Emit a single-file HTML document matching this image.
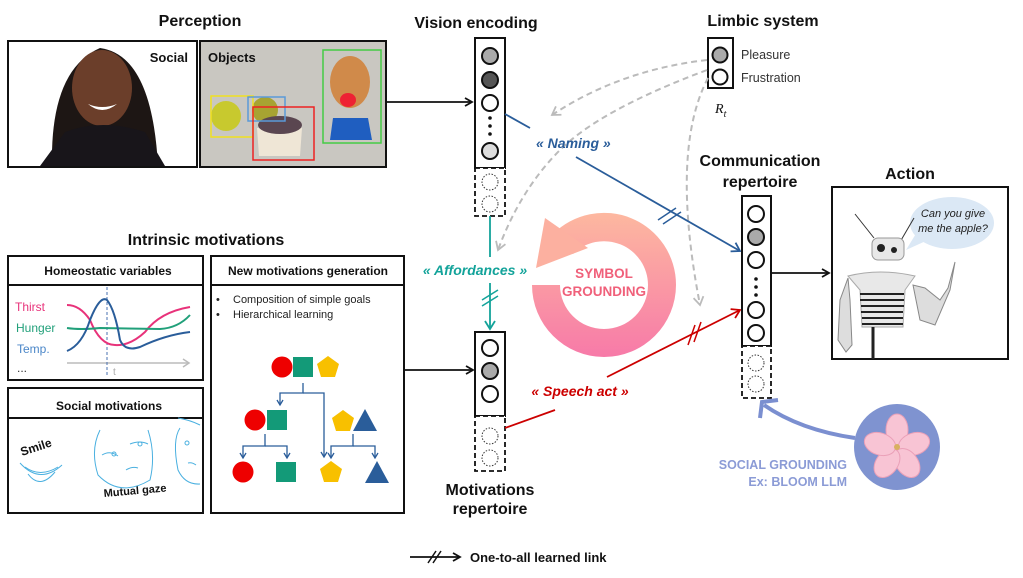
<!DOCTYPE html>
<html><head><meta charset="utf-8"><style>
html,body{margin:0;padding:0;background:#fff;}
svg{display:block;font-family:"Liberation Sans",sans-serif;}
.t{font-weight:bold;font-size:16px;fill:#111;text-anchor:middle;}
.h{font-weight:bold;font-size:12px;fill:#111;text-anchor:middle;}
</style></head><body>
<svg width="1023" height="578" viewBox="0 0 1023 578" xmlns="http://www.w3.org/2000/svg">
<defs>
<marker id="ak" markerWidth="10" markerHeight="10" refX="8" refY="5" orient="auto" markerUnits="userSpaceOnUse"><path d="M1,1 L8,5 L1,9" fill="none" stroke="#111" stroke-width="1.8"/></marker>
<marker id="ab" markerWidth="12" markerHeight="12" refX="9" refY="6" orient="auto" markerUnits="userSpaceOnUse"><path d="M1,1 L9,6 L1,11" fill="none" stroke="#2a5d9a" stroke-width="1.8"/></marker>
<marker id="ar" markerWidth="12" markerHeight="12" refX="9" refY="6" orient="auto" markerUnits="userSpaceOnUse"><path d="M1,1 L9,6 L1,11" fill="none" stroke="#c00" stroke-width="1.8"/></marker>
<marker id="at" markerWidth="12" markerHeight="12" refX="9" refY="6" orient="auto" markerUnits="userSpaceOnUse"><path d="M1,1 L9,6 L1,11" fill="none" stroke="#13a39a" stroke-width="1.8"/></marker>
<marker id="ag" markerWidth="12" markerHeight="12" refX="9" refY="6" orient="auto" markerUnits="userSpaceOnUse"><path d="M1,1 L9,6 L1,11" fill="none" stroke="#bbb" stroke-width="1.8"/></marker>
<marker id="as" markerWidth="8" markerHeight="8" refX="6" refY="4" orient="auto" markerUnits="userSpaceOnUse"><path d="M1,1 L6,4 L1,7" fill="none" stroke="#2a5d9a" stroke-width="1.3"/></marker>
<linearGradient id="sg" gradientUnits="userSpaceOnUse" x1="0" y1="213" x2="0" y2="357"><stop offset="0" stop-color="#fdb8a0"/><stop offset="1" stop-color="#f77aa8"/></linearGradient>
</defs>

<!-- Perception -->
<text class="t" x="200" y="26">Perception</text>
<rect x="8" y="41" width="189" height="126" fill="#fff" stroke="#111" stroke-width="2"/>
<path d="M52,166 Q50,70 100,48 Q152,55 158,166 Z" fill="#1d1614"/>
<ellipse cx="102" cy="88" rx="30" ry="38" fill="#6b3e2a"/>
<path d="M65,132 Q102,118 145,132 L165,166 L40,166 Z" fill="#18151a"/>
<path d="M88,104 Q102,116 117,104 Q102,110 88,104Z" fill="#fff"/>
<text x="188" y="62" font-size="13" font-weight="bold" text-anchor="end" fill="#111">Social</text>
<rect x="200" y="41" width="186" height="126" fill="#c9c7c1" stroke="#111" stroke-width="2"/>
<circle cx="226" cy="116" r="15" fill="#c8c92e"/>
<circle cx="265" cy="110" r="13" fill="#a7a332"/>
<path d="M257,128 L302,128 L300,156 L259,156 Z" fill="#efe6d6"/>
<ellipse cx="280" cy="125" rx="22" ry="9" fill="#5a4650"/>
<ellipse cx="350" cy="82" rx="20" ry="26" fill="#d08a4a"/>
<ellipse cx="348" cy="100" rx="8" ry="7" fill="#e23"/>
<path d="M333,118 L368,118 L372,140 L330,140Z" fill="#1f5ec0"/>
<rect x="211" y="96" width="42" height="41" fill="none" stroke="#f0e020" stroke-width="1.5"/>
<rect x="248" y="97" width="37" height="24" fill="none" stroke="#5a9ad8" stroke-width="1.5"/>
<rect x="253" y="107" width="61" height="53" fill="none" stroke="#e22" stroke-width="1.5"/>
<rect x="323" y="50" width="58" height="93" fill="none" stroke="#4c4" stroke-width="1.5"/>
<text x="208" y="62" font-size="13" font-weight="bold" fill="#111">Objects</text>

<!-- Vision encoding -->
<text class="t" x="476" y="28">Vision encoding</text>
<line x1="386" y1="102" x2="472" y2="102" stroke="#111" stroke-width="1.8" marker-end="url(#ak)"/>
<rect x="475" y="38" width="30" height="130" fill="#fff" stroke="#111" stroke-width="2"/>
<rect x="475" y="168" width="30" height="48" fill="#fff" stroke="#111" stroke-width="1.8" stroke-dasharray="5,3"/>
<g stroke="#111" stroke-width="2"><circle cx="490" cy="56" r="8" fill="#aaa"/><circle cx="490" cy="80" r="8" fill="#555"/><circle cx="490" cy="103" r="8" fill="#fff"/><circle cx="490" cy="151" r="8" fill="#ddd"/></g>
<g fill="#111"><circle cx="490" cy="118" r="1.8"/><circle cx="490" cy="126" r="1.8"/><circle cx="490" cy="134" r="1.8"/></g>
<g fill="none" stroke="#333" stroke-width="1" stroke-dasharray="1.5,1.5"><circle cx="490" cy="182" r="8"/><circle cx="490" cy="204" r="8"/></g>

<!-- Limbic -->
<text class="t" x="763" y="26">Limbic system</text>
<rect x="708" y="38" width="25" height="50" fill="#fff" stroke="#111" stroke-width="2"/>
<circle cx="720" cy="55" r="7.5" fill="#aaa" stroke="#111" stroke-width="2"/>
<circle cx="720" cy="77" r="7.5" fill="#fff" stroke="#111" stroke-width="2"/>
<text x="741" y="59" font-size="12.5" fill="#333">Pleasure</text>
<text x="741" y="82" font-size="12.5" fill="#333">Frustration</text>
<text x="715" y="113" font-size="14" font-style="italic" font-family="Liberation Serif,serif" fill="#111">R<tspan font-size="10" dy="4">t</tspan></text>

<!-- gray dashed -->
<g fill="none" stroke="#bbb" stroke-width="2" stroke-dasharray="6,4">
<path d="M707,60 Q620,70 552,115" marker-end="url(#ag)"/>
<path d="M707,70 Q600,110 560,150 Q520,190 498,250" marker-end="url(#ag)"/>
<path d="M708,78 Q670,150 700,305" marker-end="url(#ag)"/>
</g>

<!-- Symbol grounding -->
<path d="M532,285 A72,72 0 0 0 676,285 A72,72 0 0 0 553,234 L573,254 A44,44 0 0 1 648,285 A44,44 0 0 1 560,285 Z" fill="url(#sg)"/>
<path d="M545,218 L588,248 L536,268 Z" fill="#fcb0a0"/>
<text x="604" y="278" font-size="13.5" font-weight="bold" fill="#f0607a" text-anchor="middle">SYMBOL</text>
<text x="604" y="296" font-size="13.5" font-weight="bold" fill="#f0607a" text-anchor="middle">GROUNDING</text>

<!-- Naming -->
<line x1="505" y1="114" x2="530" y2="128" stroke="#2a5d9a" stroke-width="1.8"/>
<text x="536" y="148" font-size="14" font-weight="bold" font-style="italic" fill="#2a5d9a">« Naming »</text>
<line x1="576" y1="157" x2="740" y2="251" stroke="#2a5d9a" stroke-width="1.8" marker-end="url(#ab)"/>
<g stroke="#2a5d9a" stroke-width="1.5"><line x1="658" y1="220" x2="676" y2="208"/><line x1="663" y1="224" x2="681" y2="212"/></g>

<!-- Affordances -->
<line x1="490" y1="216" x2="490" y2="257" stroke="#13a39a" stroke-width="1.8"/>
<text x="475" y="275" font-size="14" font-weight="bold" font-style="italic" fill="#13a39a" text-anchor="middle">« Affordances »</text>
<line x1="490" y1="283" x2="490" y2="329" stroke="#13a39a" stroke-width="1.8" marker-end="url(#at)"/>
<g stroke="#13a39a" stroke-width="1.5"><line x1="482" y1="300" x2="498" y2="290"/><line x1="482" y1="306" x2="498" y2="296"/></g>

<!-- Motivations repertoire -->
<line x1="404" y1="370" x2="473" y2="370" stroke="#111" stroke-width="1.8" marker-end="url(#ak)"/>
<rect x="475" y="332" width="30" height="84" fill="#fff" stroke="#111" stroke-width="2"/>
<rect x="475" y="416" width="30" height="55" fill="#fff" stroke="#111" stroke-width="1.8" stroke-dasharray="5,3"/>
<g stroke="#111" stroke-width="2"><circle cx="490" cy="348" r="8" fill="#fff"/><circle cx="490" cy="371" r="8" fill="#aaa"/><circle cx="490" cy="394" r="8" fill="#fff"/></g>
<g fill="none" stroke="#333" stroke-width="1" stroke-dasharray="1.5,1.5"><circle cx="490" cy="436" r="8"/><circle cx="490" cy="458" r="8"/></g>
<text class="t" x="490" y="495">Motivations</text>
<text class="t" x="490" y="514">repertoire</text>

<!-- Speech act -->
<line x1="505" y1="428" x2="555" y2="410" stroke="#c00" stroke-width="1.8"/>
<text x="580" y="396" font-size="14" font-weight="bold" font-style="italic" fill="#c00" text-anchor="middle">« Speech act »</text>
<line x1="607" y1="377" x2="740" y2="310" stroke="#c00" stroke-width="1.8" marker-end="url(#ar)"/>
<g stroke="#c00" stroke-width="1.5"><line x1="688" y1="345" x2="695" y2="325"/><line x1="694" y1="342" x2="701" y2="322"/></g>

<!-- Communication repertoire -->
<text class="t" x="760" y="166">Communication</text>
<text class="t" x="760" y="187">repertoire</text>
<rect x="742" y="196" width="29" height="150" fill="#fff" stroke="#111" stroke-width="2"/>
<rect x="742" y="346" width="29" height="52" fill="#fff" stroke="#111" stroke-width="1.8" stroke-dasharray="5,3"/>
<g stroke="#111" stroke-width="2"><circle cx="756" cy="214" r="8" fill="#fff"/><circle cx="756" cy="237" r="8" fill="#aaa"/><circle cx="756" cy="260" r="8" fill="#fff"/><circle cx="756" cy="310" r="8" fill="#fff"/><circle cx="756" cy="333" r="8" fill="#fff"/></g>
<g fill="#111"><circle cx="756" cy="279" r="1.8"/><circle cx="756" cy="287" r="1.8"/><circle cx="756" cy="295" r="1.8"/></g>
<g fill="none" stroke="#333" stroke-width="1" stroke-dasharray="1.5,1.5"><circle cx="756" cy="363" r="8"/><circle cx="756" cy="384" r="8"/></g>
<line x1="771" y1="273" x2="829" y2="273" stroke="#111" stroke-width="1.8" marker-end="url(#ak)"/>

<!-- Action -->
<text class="t" x="910" y="179">Action</text>
<rect x="832" y="187" width="176" height="172" fill="#fff" stroke="#111" stroke-width="2"/>
<ellipse cx="952" cy="223" rx="42" ry="26" fill="#dbe8f5"/>
<path d="M917,232 L906,250 L928,240Z" fill="#dbe8f5"/>
<text x="953" y="217" font-size="11" font-style="italic" fill="#222" text-anchor="middle">Can you give</text>
<text x="953" y="232" font-size="11" font-style="italic" fill="#222" text-anchor="middle">me the apple?</text>
<line x1="855" y1="214" x2="874" y2="238" stroke="#333" stroke-width="1"/>
<line x1="900" y1="242" x2="914" y2="218" stroke="#333" stroke-width="1"/>
<rect x="872" y="238" width="32" height="22" rx="6" fill="#e8e8e8" stroke="#999"/>
<circle cx="881" cy="248" r="4" fill="#222"/><circle cx="894" cy="250" r="3" fill="#222"/>
<path d="M848,276 Q880,268 915,276 L905,290 L903,327 L862,327 L860,290 Z" fill="#e8e8e8" stroke="#aaa"/>
<g stroke="#222" stroke-width="2"><line x1="860" y1="294" x2="904" y2="294"/><line x1="860" y1="300" x2="904" y2="300"/><line x1="861" y1="306" x2="904" y2="306"/><line x1="861" y1="312" x2="903" y2="312"/><line x1="862" y1="318" x2="903" y2="318"/><line x1="862" y1="324" x2="903" y2="324"/></g>
<line x1="873" y1="327" x2="873" y2="359" stroke="#222" stroke-width="3"/>
<path d="M848,278 L840,300 L838,340 L846,352 L852,345 L850,300 Z" fill="#ddd" stroke="#888"/>
<path d="M913,285 L920,320 L935,325 L950,290 L955,262 L948,288 L940,300 L925,288Z" fill="#ddd" stroke="#888"/>

<!-- Social grounding -->
<path d="M855,438 Q800,430 764,405" fill="none" stroke="#7b8fd0" stroke-width="4"/>
<path d="M760,418 L762,402 L778,400" fill="none" stroke="#7b8fd0" stroke-width="4"/>
<circle cx="897" cy="447" r="43" fill="#7f93d0"/>
<g fill="#f8c4d4" stroke="#eaa0b8"><ellipse cx="897" cy="430" rx="11" ry="16"/><ellipse cx="914" cy="444" rx="11" ry="16" transform="rotate(72 914 444)"/><ellipse cx="907" cy="463" rx="11" ry="16" transform="rotate(144 907 463)"/><ellipse cx="887" cy="463" rx="11" ry="16" transform="rotate(216 887 463)"/><ellipse cx="880" cy="444" rx="11" ry="16" transform="rotate(288 880 444)"/></g>
<circle cx="897" cy="447" r="3" fill="#d8b060"/>
<text x="847" y="469" font-size="12.5" font-weight="bold" fill="#8b9bd6" text-anchor="end">SOCIAL GROUNDING</text>
<text x="847" y="486" font-size="12.5" font-weight="bold" fill="#8b9bd6" text-anchor="end">Ex: BLOOM LLM</text>

<!-- Intrinsic motivations -->
<text class="t" x="206" y="245">Intrinsic motivations</text>
<rect x="8" y="256" width="195" height="124" fill="#fff" stroke="#111" stroke-width="2"/>
<line x1="8" y1="285" x2="203" y2="285" stroke="#111" stroke-width="2"/>
<text class="h" x="108" y="275">Homeostatic variables</text>
<text x="15" y="311" font-size="12" fill="#e8327a">Thirst</text>
<text x="16" y="332" font-size="12" fill="#21a07a">Hunger</text>
<text x="17" y="353" font-size="12" fill="#4a86c8">Temp.</text>
<text x="17" y="372" font-size="12" fill="#333">...</text>
<line x1="67" y1="363" x2="188" y2="363" stroke="#bbb" stroke-width="1.5"/><path d="M183,359 L189,363 L183,367" fill="none" stroke="#bbb" stroke-width="1.5"/>
<line x1="107" y1="287" x2="107" y2="376" stroke="#4a70b0" stroke-width="1" stroke-dasharray="3,2"/>
<text x="113" y="375" font-size="10" fill="#aaa">t</text>
<path d="M67,305 Q80,305 90,320 Q100,345 115,345 Q130,346 145,332 Q160,312 190,307" fill="none" stroke="#e8327a" stroke-width="2"/>
<path d="M67,328 Q80,330 100,328 L160,329 Q178,328 190,315" fill="none" stroke="#21a07a" stroke-width="2"/>
<path d="M67,351 Q82,345 90,320 Q100,295 107,300 Q115,310 120,340 Q125,352 140,347 Q165,335 190,332" fill="none" stroke="#2a5d9a" stroke-width="2"/>

<rect x="8" y="388" width="195" height="125" fill="#fff" stroke="#111" stroke-width="2"/>
<line x1="8" y1="418" x2="203" y2="418" stroke="#111" stroke-width="2"/>
<text class="h" x="109" y="410">Social motivations</text>
<text x="22" y="456" font-size="12" font-weight="bold" fill="#111" transform="rotate(-18 22 456)">Smile</text>
<text x="104" y="497" font-size="11" font-weight="bold" fill="#111" transform="rotate(-5 104 497)">Mutual gaze</text>
<g fill="none" stroke="#4ab0e0" stroke-width="1">
<path d="M20,463 Q40,485 62,465"/><path d="M25,467 Q40,478 58,467"/><path d="M28,474 Q40,490 55,472"/>
<path d="M100,430 Q90,450 98,475 Q120,498 150,480 Q156,455 148,430"/><path d="M102,455 Q110,450 118,456"/><path d="M130,444 Q140,440 148,444"/><circle cx="114" cy="454" r="2"/><circle cx="140" cy="444" r="2"/><path d="M126,470 Q132,466 138,468"/>
<path d="M180,428 Q172,440 178,470 Q185,485 200,484"/><path d="M178,418 Q190,420 200,425"/><circle cx="187" cy="443" r="2"/><path d="M188,463 Q192,462 196,465"/>
</g>

<rect x="211" y="256" width="193" height="257" fill="#fff" stroke="#111" stroke-width="2"/>
<line x1="211" y1="285" x2="404" y2="285" stroke="#111" stroke-width="2"/>
<text class="h" x="308" y="275">New motivations generation</text>
<text x="216" y="303" font-size="11" fill="#222">•</text><text x="233" y="303" font-size="11" fill="#222">Composition of simple goals</text>
<text x="216" y="318" font-size="11" fill="#222">•</text><text x="233" y="318" font-size="11" fill="#222">Hierarchical learning</text>
<g fill="none" stroke="#2a5d9a" stroke-width="1.3">
<path d="M303,383 L303,393 L280,393 L280,405" marker-end="url(#as)"/><path d="M303,393 L324,393 L324,457" marker-end="url(#as)"/>
<path d="M265,434 L265,446 L243,446 L243,458" marker-end="url(#as)"/><path d="M265,446 L287,446 L287,458" marker-end="url(#as)"/>
<path d="M353,434 L353,446 L331,446 L331,458" marker-end="url(#as)"/><path d="M353,446 L375,446 L375,458" marker-end="url(#as)"/>
</g>
<circle cx="282" cy="367" r="10.5" fill="#e00"/><rect x="293" y="357" width="20" height="20" fill="#139a78"/>
<path d="M328,356 L339,364 L335,377 L321,377 L317,364Z" fill="#f8c000"/>
<circle cx="255" cy="420" r="10.5" fill="#e00"/><rect x="267" y="410" width="20" height="20" fill="#139a78"/>
<path d="M343,410 L354,418 L350,431 L336,431 L332,418Z" fill="#f8c000"/>
<path d="M365,409 L377,431 L353,431Z" fill="#2a5d9a"/>
<circle cx="243" cy="472" r="10.5" fill="#e00"/><rect x="276" y="462" width="20" height="20" fill="#139a78"/>
<path d="M331,461 L342,469 L338,482 L324,482 L320,469Z" fill="#f8c000"/>
<path d="M377,461 L389,483 L365,483Z" fill="#2a5d9a"/>

<!-- Legend -->
<line x1="410" y1="557" x2="460" y2="557" stroke="#111" stroke-width="1.8" marker-end="url(#ak)"/>
<g stroke="#111" stroke-width="1.5"><line x1="428" y1="563" x2="436" y2="551"/><line x1="433" y1="563" x2="441" y2="551"/></g>
<text x="470" y="562" font-size="13" font-weight="bold" fill="#111">One-to-all learned link</text>
</svg>
</body></html>
